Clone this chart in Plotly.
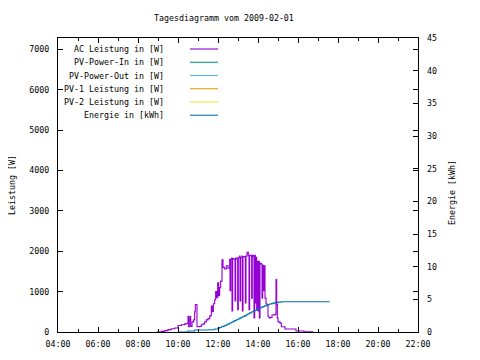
import plotly.graph_objects as go

DAY = "2009-02-01 "

# AC Leistung [W]
ac_times = ["08:56","09:10","09:20","09:30","09:40","09:50","10:00","10:10","10:20","10:26",
            "10:30","10:32","10:34","10:36","10:38","10:42","10:47","10:50","10:52","10:57",
            "11:05","11:10","11:15","11:20","11:25","11:30","11:35","11:40","11:43","11:46",
            "11:50","11:53","11:56","11:59","12:02","12:05","12:08","12:12","12:15","12:20",
            "12:25","12:30","12:35","12:36","12:38","12:41","12:42","12:44","12:48","12:51",
            "12:53","12:57","12:59","13:01","13:05","13:06","13:08","13:12","13:13","13:15",
            "13:20","13:22","13:24","13:27","13:31","13:33","13:35","13:40","13:41","13:43",
            "13:46","13:48","13:50","13:52","13:54","13:56","13:58","14:00","14:02","14:04",
            "14:06","14:10","14:12","14:14","14:16","14:18","14:21","14:24","14:27","14:30",
            "14:33","14:38","14:42","14:48","14:54","14:56","14:58","15:00","15:06","15:10",
            "15:21","15:48","15:54","16:18","16:44"]
ac_values = [0, 15, 35, 60, 80, 100, 160, 180, 200, 210,
             390, 130, 300, 380, 135, 250, 300, 500, 680, 130,
             140, 180, 200, 250, 300, 330, 400, 640, 500, 700,
             800, 1000, 850, 1220, 900, 1100, 1260, 1790, 1600, 1560,
             1640, 1580, 1800, 1020, 1800, 1830, 520, 1820, 1800, 770,
             1830, 1800, 550, 1850, 1880, 770, 1850, 1880, 520, 1870,
             1860, 720, 1880, 1975, 1900, 550, 1900, 1880, 840, 1900,
             1880, 350, 1900, 720, 1850, 550, 1750, 520, 1750, 350,
             1700, 1680, 840, 1650, 1020, 1640, 840, 700, 680, 390,
             350, 360, 420, 430, 1300, 680, 350, 250, 220, 130,
             75, 75, 25, 5, 0]

# Energie [kWh]
en_times = ["10:00","10:30","10:50","11:30","11:50","12:00","12:05","12:10","12:15","12:20",
            "12:25","12:30","12:35","12:40","12:45","12:50","12:55","13:00","13:05","13:10",
            "13:15","13:20","13:25","13:30","13:35","13:40","13:45","13:50","13:55","14:00",
            "14:05","14:10","14:15","14:20","14:25","14:30","14:35","14:40","14:45","14:50",
            "15:00","15:10","17:35"]
en_values = [0.0, 0.15, 0.3, 0.35, 0.45, 0.6, 0.7, 0.8, 0.9, 1.0,
             1.12, 1.25, 1.38, 1.5, 1.62, 1.75, 1.88, 2.0, 2.12, 2.25,
             2.38, 2.5, 2.65, 2.8, 2.92, 3.05, 3.18, 3.3, 3.42, 3.55,
             3.68, 3.8, 3.9, 4.0, 4.1, 4.2, 4.28, 4.35, 4.42, 4.5,
             4.58, 4.63, 4.63]

legend_labels = ["AC Leistung in [W]", "PV-Power-In in [W]", "PV-Power-Out in [W]",
                 "PV-1 Leistung in [W]", "PV-2 Leistung in [W]", "Energie in [kWh]"]
legend_colors = ["#9400d3", "#009e73", "#56b4e9", "#e69f00", "#f0e442", "#0072b2"]

x_ticks = ["04:00","06:00","08:00","10:00","12:00","14:00","16:00","18:00","20:00","22:00"]

FONT = "DejaVu Sans Mono"
FS = 8.3

# page body has an 8px default margin; compensate so the plot area lands at screen 58..418 x 38..332
OFF = 8
L, R, T, B = 58, 418, 38, 332

def px(x): return (x - L) / (R - L)
def py(y): return (B - y) / (B - T)

fig = go.Figure()
fig.add_trace(go.Scatter(x=[DAY + t for t in ac_times], y=ac_values, mode="lines",
                         line=dict(color=legend_colors[0], width=1.1, shape="hv"),
                         showlegend=False, yaxis="y"))
fig.add_trace(go.Scatter(x=[DAY + t for t in en_times], y=en_values, mode="lines",
                         line=dict(color=legend_colors[5], width=1.1, shape="hv"),
                         showlegend=False, yaxis="y2"))

# manual legend (text right aligned, line sample to the right), gnuplot style
for i, (lab, col) in enumerate(zip(legend_labels, legend_colors)):
    yy = 49 + i * 13.25
    fig.add_annotation(x=px(166), y=py(yy), xref="paper", yref="paper", text=lab,
                       showarrow=False, xanchor="right", yanchor="middle",
                       font=dict(family=FONT, size=FS, color="black"))
    fig.add_shape(type="line", xref="paper", yref="paper", x0=px(190), x1=px(218),
                  y0=py(yy), y1=py(yy), line=dict(color=col, width=1.1))

fig.add_annotation(x=px(224), y=py(18), xref="paper", yref="paper",
                   text="Tagesdiagramm vom 2009-02-01", showarrow=False,
                   xanchor="center", yanchor="middle",
                   font=dict(family=FONT, size=FS, color="black"))
fig.add_annotation(x=px(12), y=py(185), xref="paper", yref="paper", text="Leistung [W]",
                   textangle=-90, showarrow=False, xanchor="center", yanchor="middle",
                   font=dict(family=FONT, size=FS, color="black"))
fig.add_annotation(x=px(452), y=py(193), xref="paper", yref="paper", text="Energie [kWh]",
                   textangle=-90, showarrow=False, xanchor="center", yanchor="middle",
                   font=dict(family=FONT, size=FS, color="black"))

fig.update_layout(
    width=480, height=360,
    margin=dict(l=L - OFF, r=480 - (R - OFF), t=T - OFF, b=360 - (B - OFF), autoexpand=False),
    paper_bgcolor="white", plot_bgcolor="white",
    font=dict(family=FONT, size=FS, color="black"),
    showlegend=False,
    xaxis=dict(type="date", range=[DAY + "04:00", DAY + "22:00"],
               tickvals=[DAY + t for t in x_ticks], ticktext=x_ticks,
               ticks="inside", ticklen=5, tickcolor="black", tickwidth=1,
               minor=dict(dtick=3600000, ticks="inside", ticklen=3, tickcolor="black",
                          tick0=DAY + "04:00"),
               showline=True, linecolor="black", linewidth=1.3, mirror="ticks",
               showgrid=False, zeroline=False, ticklabelstandoff=4, automargin=False),
    yaxis=dict(range=[0, 7280], tickvals=[0, 1000, 2000, 3000, 4000, 5000, 6000, 7000],
               ticks="inside", ticklen=5, tickcolor="black",
               showline=True, linecolor="black", linewidth=1.3, mirror="ticks",
               showgrid=False, zeroline=False, ticklabelstandoff=6, automargin=False),
    yaxis2=dict(range=[0, 45], tickvals=[0, 5, 10, 15, 20, 25, 30, 35, 40, 45],
                overlaying="y", side="right", ticks="inside", ticklen=5, tickcolor="black",
                showline=False, showgrid=False, zeroline=False, ticklabelstandoff=8,
                automargin=False),
)

fig.write_html("out.html")
